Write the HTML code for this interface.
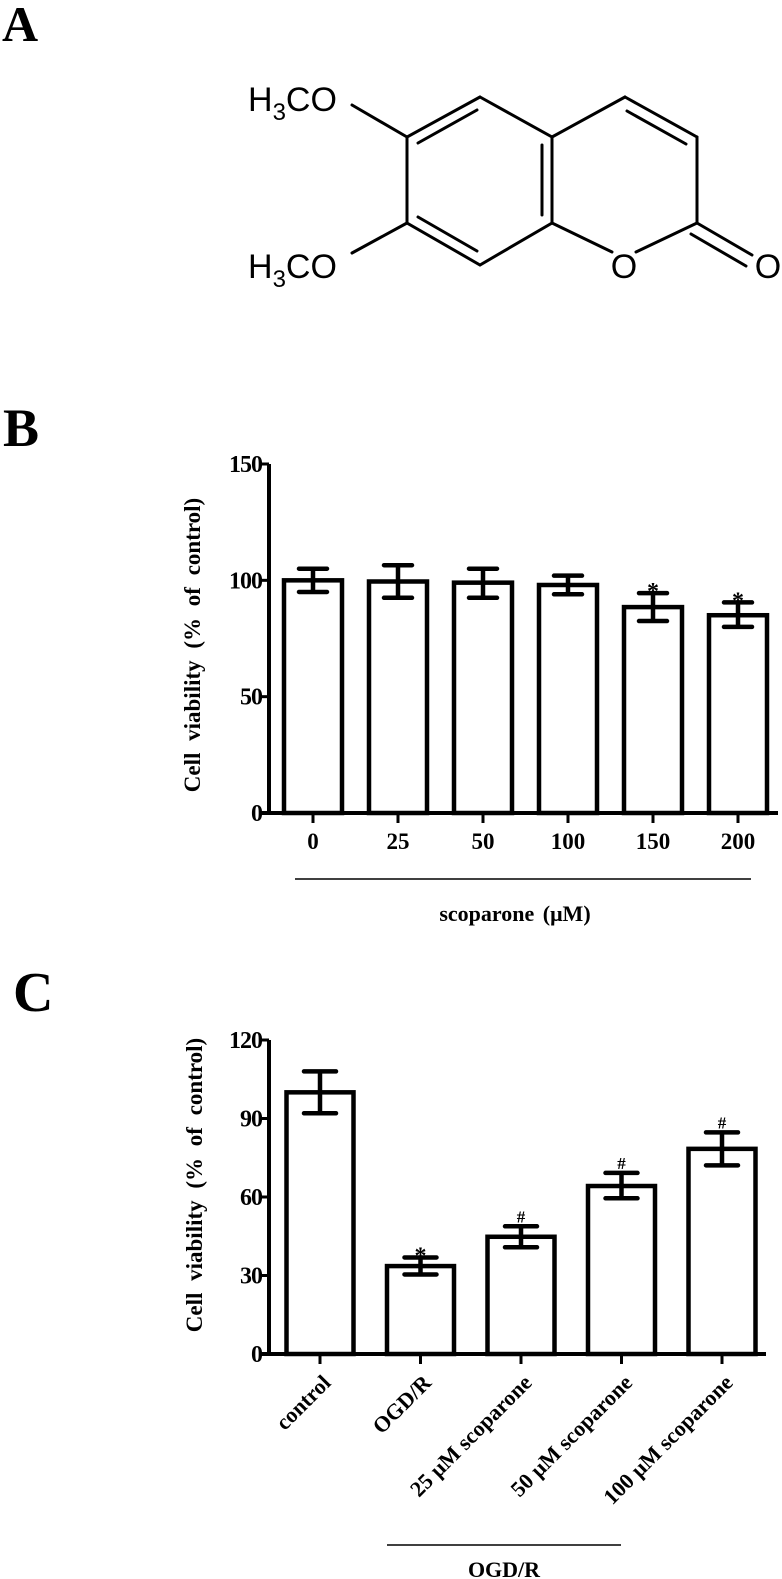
<!DOCTYPE html>
<html><head><meta charset="utf-8">
<style>
html,body{margin:0;padding:0;background:#fff;}
svg{display:block;}
text{font-family:"Liberation Serif","Times New Roman",serif;font-weight:bold;fill:#000;}
.mol{font-family:"Liberation Sans",sans-serif;font-weight:normal;}
</style></head>
<body>
<svg id="fig" width="782" height="1579" viewBox="0 0 782 1579" xmlns="http://www.w3.org/2000/svg">
  <text x="2" y="41" font-size="50">A</text>
  <g id="molecule" stroke="#000" stroke-width="3" fill="none" stroke-linecap="round">
    <polyline points="480,97 407,137 407,223 480,265 552,223 552,137 480,97"/>
    <line x1="477" y1="110" x2="418" y2="143"/>
    <line x1="418" y1="217" x2="477" y2="251"/>
    <line x1="542" y1="145" x2="542" y2="215"/>
    <line x1="552" y1="137" x2="625" y2="97"/>
    <line x1="625" y1="97" x2="697" y2="137"/>
    <line x1="627" y1="111" x2="686" y2="144"/>
    <line x1="697" y1="137" x2="697" y2="223"/>
    <line x1="552" y1="223" x2="612" y2="252"/>
    <line x1="636" y1="252" x2="697" y2="223"/>
    <line x1="697" y1="223" x2="752" y2="255"/>
    <line x1="691" y1="234" x2="746" y2="266"/>
    <line x1="352" y1="105" x2="407" y2="137"/>
    <line x1="352" y1="253" x2="407" y2="223"/>
  </g>
  <text class="mol" x="248" y="111" font-size="34">H<tspan font-size="24" dy="9">3</tspan><tspan dy="-9">CO</tspan></text>
  <text class="mol" x="248" y="278" font-size="34">H<tspan font-size="24" dy="9">3</tspan><tspan dy="-9">CO</tspan></text>
  <text class="mol" x="624" y="278" font-size="34" text-anchor="middle">O</text>
  <text class="mol" x="768" y="278" font-size="34" text-anchor="middle">O</text>

  <text x="3" y="446" font-size="54">B</text>
  <g id="chartB"></g>

  <text x="13" y="1011" font-size="56">C</text>
  <g id="chartC"></g>

  <line x1="295" y1="879" x2="751" y2="879" stroke="#000" stroke-width="1.5"/>
  <text x="515" y="921" font-size="22" text-anchor="middle" word-spacing="3">scoparone (μM)</text>
  <line x1="387" y1="1545" x2="621" y2="1545" stroke="#000" stroke-width="1.5"/>
  <text x="504" y="1577" font-size="22" text-anchor="middle">OGD/R</text>
</svg>
<script>
const bCategories = ["0","25","50","100","150","200"];
const bValues = [100, 99.5, 99, 98, 88.5, 85];
const bErrLow = [95, 92.5, 92.5, 94, 82.5, 80];
const bErrHigh = [105, 106.5, 105, 102, 94.5, 90.5];
const bMarks = ["", "", "", "", "*", "*"];
const bTicks = [0, 50, 100, 150];

const cCategories = ["control","OGD/R","25 μM scoparone","50 μM scoparone","100 μM scoparone"];
const cValues = [100, 33.6, 44.8, 64.2, 78.4];
const cErrLow = [92, 30.4, 40.8, 59.5, 72.1];
const cErrHigh = [108, 36.9, 48.8, 69.2, 84.7];
const cMarks = ["", "*", "#", "#", "#"];
const cTicks = [0, 30, 60, 90, 120];

const NS = "http://www.w3.org/2000/svg";
function mk(parent, tag, attrs, txt) {
  const e = document.createElementNS(NS, tag);
  for (const k in attrs) e.setAttribute(k, attrs[k]);
  if (txt !== undefined) e.textContent = txt;
  parent.appendChild(e);
  return e;
}

function drawChart(g, cfg) {
  const yScale = v => cfg.y0 - (v - cfg.ymin) / (cfg.ymax - cfg.ymin) * (cfg.y0 - cfg.yTop);
  const xScale = i => cfg.x0 + i * cfg.step;
  let ax = mk(g, "line", {x1: cfg.axX, y1: cfg.yTop, x2: cfg.axX, y2: cfg.y0 + 2, stroke: "#000", "stroke-width": 4});
  
  
  let bx = mk(g, "line", {x1: cfg.axX - 7, y1: cfg.y0, x2: cfg.xEnd, y2: cfg.y0, stroke: "#000", "stroke-width": 4});
  
  
  cfg.ticks.forEach(t => {
    const y = yScale(t);
    let tl = mk(g, "line", {x1: cfg.axX - 8, y1: y, x2: cfg.axX, y2: y, stroke: "#000", "stroke-width": 3});
    
    
    let tx = mk(g, "text", {x: cfg.axX - 7, y: y + 8, "font-size": 24, "text-anchor": "end", "letter-spacing": "-1"}, String(t));
    
    
  });
  const yt = mk(g, "text", {x: 0, y: 0, "font-size": 23, "text-anchor": "middle", "word-spacing": "6", transform: `translate(${cfg.titleX},${cfg.titleY}) rotate(-90)`}, "Cell viability (% of control)");
  
  
  cfg.cats.forEach((c, i) => {
    const cx = xScale(i);
    const top = yScale(cfg.vals[i]);
    const half = cfg.barW / 2;
    let bar = mk(g, "rect", {x: cx - half, y: top, width: cfg.barW, height: cfg.y0 - top, fill: "#fff", stroke: "#000", "stroke-width": 4.5});
    
    
    const lo = yScale(cfg.lo[i]), hi = yScale(cfg.hi[i]);
    const cw = cfg.capW / 2;
    let eb = mk(g, "path", {d: `M${cx},${lo} L${cx},${hi} M${cx - cw},${hi} L${cx + cw},${hi} M${cx - cw},${lo} L${cx + cw},${lo}`, stroke: "#000", "stroke-width": 4.5, fill: "none", "stroke-linecap": "round"});
    
    
    let tk = mk(g, "line", {x1: cx, y1: cfg.y0, x2: cx, y2: cfg.y0 + 10, stroke: "#000", "stroke-width": 3});
    
    
    if (cfg.marks[i]) {
      let m = mk(g, "text", {x: cx, y: hi - 4 + (cfg.marks[i] === "*" ? 10 : 0), "font-size": cfg.marks[i] === "*" ? 24 : 17, "text-anchor": "middle"}, cfg.marks[i]);
      
      
    }
    let lab;
    if (cfg.rotate) {
      lab = mk(g, "text", {x: 0, y: 0, "font-size": 22, "text-anchor": "end", transform: `translate(${cx + 12},${cfg.y0 + 30}) rotate(-45)`}, c);
    } else {
      lab = mk(g, "text", {x: cx, y: cfg.y0 + 36, "font-size": 23, "text-anchor": "middle"}, c);
    }
    
    
  });
}

drawChart(document.getElementById("chartB"), {
  cats: bCategories, vals: bValues, lo: bErrLow, hi: bErrHigh, marks: bMarks, ticks: bTicks,
  ymin: 0, ymax: 150, y0: 813, yTop: 464, axX: 269, xEnd: 778,
  x0: 313, step: 85, barW: 58, capW: 28, titleX: 200, titleY: 645, rotate: false
});
drawChart(document.getElementById("chartC"), {
  cats: cCategories, vals: cValues, lo: cErrLow, hi: cErrHigh, marks: cMarks, ticks: cTicks,
  ymin: 0, ymax: 120, y0: 1354, yTop: 1040, axX: 269, xEnd: 766,
  x0: 320, step: 100.5, barW: 67, capW: 32, titleX: 202, titleY: 1185, rotate: true
});
</script>
</body></html>
